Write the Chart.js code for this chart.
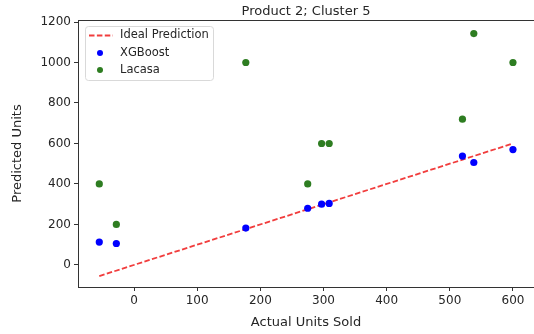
<!DOCTYPE html>
<html>
<head>
<meta charset="utf-8">
<script src="https://cdn.jsdelivr.net/npm/chart.js@4.4.1/dist/chart.umd.min.js"></script>
<style>
  html, body { margin: 0; padding: 0; background: #ffffff; }
  #wrap { width: 534px; height: 334px; position: relative; }
</style>
</head>
<body>
<div id="wrap"><canvas id="c" width="534" height="334"></canvas></div>
<script>
// Actual units sold for each observation
const actualUnits = [-55, -28, 177, 275, 297, 309, 520, 538, 600];
// Model predictions for the same observations
const xgboostPred = [113, 106, 182, 280, 300, 304, 538, 506, 570];
const lacasaPred  = [400, 200, 1000, 400, 600, 600, 720, 1143, 1000];
// Tick marks on each axis
const xTickValues = [0, 100, 200, 300, 400, 500, 600];
const yTickValues = [0, 200, 400, 600, 800, 1000, 1200];

const FONT = '"DejaVu Sans", sans-serif';
const TEXT = '#262626';

const toPoints = (xs, ys) => xs.map((x, i) => ({ x: x, y: ys[i] }));
const lo = Math.min(...actualUnits), hi = Math.max(...actualUnits);

// Top spine, title and in-plot legend
const decorations = {
  id: 'decorations',
  afterDraw(chart) {
    const ctx = chart.ctx, a = chart.chartArea;
    ctx.save();
    ctx.strokeStyle = '#333';
    ctx.lineWidth = 1;
    ctx.beginPath();
    ctx.moveTo(a.left, Math.round(a.top) + 0.5);
    ctx.lineTo(a.right, Math.round(a.top) + 0.5);
    ctx.stroke();
    // title
    ctx.fillStyle = TEXT;
    ctx.font = '13px ' + FONT;
    ctx.textAlign = 'center';
    ctx.textBaseline = 'middle';
    ctx.fillText('Product 2; Cluster 5', (a.left + a.right) / 2, 12);
    // legend
    const lx = a.left + 7, ly = a.top + 6, lw = 128, lh = 54;
    ctx.beginPath();
    ctx.roundRect(lx + 0.5, ly + 0.5, lw, lh, 3);
    ctx.fillStyle = 'rgba(255,255,255,0.8)';
    ctx.fill();
    ctx.strokeStyle = '#d9d9d9';
    ctx.stroke();
    ctx.font = '11.5px ' + FONT;
    ctx.textAlign = 'left';
    ctx.fillStyle = TEXT;
    const rows = [ly + 9.5, ly + 27, ly + 44];
    ctx.beginPath();
    ctx.setLineDash([5.5, 2.4]);
    ctx.strokeStyle = 'rgba(240,40,40,0.9)';
    ctx.lineWidth = 1.8;
    ctx.moveTo(lx + 4, rows[0]);
    ctx.lineTo(lx + 28, rows[0]);
    ctx.stroke();
    ctx.setLineDash([]);
    ctx.fillText('Ideal Prediction', lx + 35, rows[0]);
    [['#0000ff', 'XGBoost'], ['#2e7d21', 'Lacasa']].forEach((e, i) => {
      ctx.beginPath();
      ctx.arc(lx + 15, rows[i + 1], 3, 0, Math.PI * 2);
      ctx.fillStyle = e[0];
      ctx.fill();
      ctx.fillStyle = TEXT;
      ctx.fillText(e[1], lx + 35, rows[i + 1]);
    });
    ctx.restore();
  }
};

new Chart(document.getElementById('c'), {
  type: 'scatter',
  data: {
    datasets: [
      {
        label: 'Ideal Prediction',
        type: 'line',
        data: [{ x: lo, y: lo }, { x: hi, y: hi }],
        borderColor: 'rgba(240,40,40,0.9)',
        borderWidth: 1.8,
        borderDash: [5.5, 2.4],
        pointRadius: 0,
        fill: false,
        order: 3
      },
      {
        label: 'XGBoost',
        data: toPoints(actualUnits, xgboostPred),
        backgroundColor: '#0000ff',
        borderWidth: 0,
        pointRadius: 3.6,
        order: 2
      },
      {
        label: 'Lacasa',
        data: toPoints(actualUnits, lacasaPred),
        backgroundColor: '#2e7d21',
        borderWidth: 0,
        pointRadius: 3.6,
        order: 1
      }
    ]
  },
  options: {
    responsive: false,
    animation: false,
    layout: { autoPadding: false, padding: { top: 20, right: 0, left: 0, bottom: 0 } },
    plugins: { legend: { display: false }, title: { display: false }, tooltip: { enabled: false } },
    scales: {
      x: {
        type: 'linear',
        min: -88.7,
        max: 633.3,
        afterBuildTicks: s => { s.ticks = xTickValues.map(v => ({ value: v })); },
        afterFit: s => { s.height = 47; s.paddingLeft = 0; s.paddingRight = 0; },
        grid: { drawOnChartArea: false, drawTicks: true, tickLength: 4, color: '#333' },
        border: { display: true, color: '#333' },
        ticks: { color: TEXT, font: { family: FONT, size: 12 }, padding: 3, maxRotation: 0,
                 callback: v => String(v) },
        title: { display: true, text: 'Actual Units Sold', color: TEXT, font: { family: FONT, size: 13 }, padding: { top: 3 } }
      },
      y: {
        type: 'linear',
        min: -109,
        max: 1210,
        afterBuildTicks: s => { s.ticks = yTickValues.map(v => ({ value: v })); },
        afterFit: s => { s.width = 78; s.paddingTop = 0; s.paddingBottom = 0; },
        grid: { drawOnChartArea: false, drawTicks: true, tickLength: 4, color: '#333' },
        border: { display: true, color: '#333' },
        ticks: { color: TEXT, font: { family: FONT, size: 12 }, padding: 3,
                 callback: v => String(v) },
        title: { display: true, text: 'Predicted Units', color: TEXT, font: { family: FONT, size: 13 }, padding: { top: 10, bottom: 0 } }
      }
    }
  },
  plugins: [decorations]
});
</script>
</body>
</html>
